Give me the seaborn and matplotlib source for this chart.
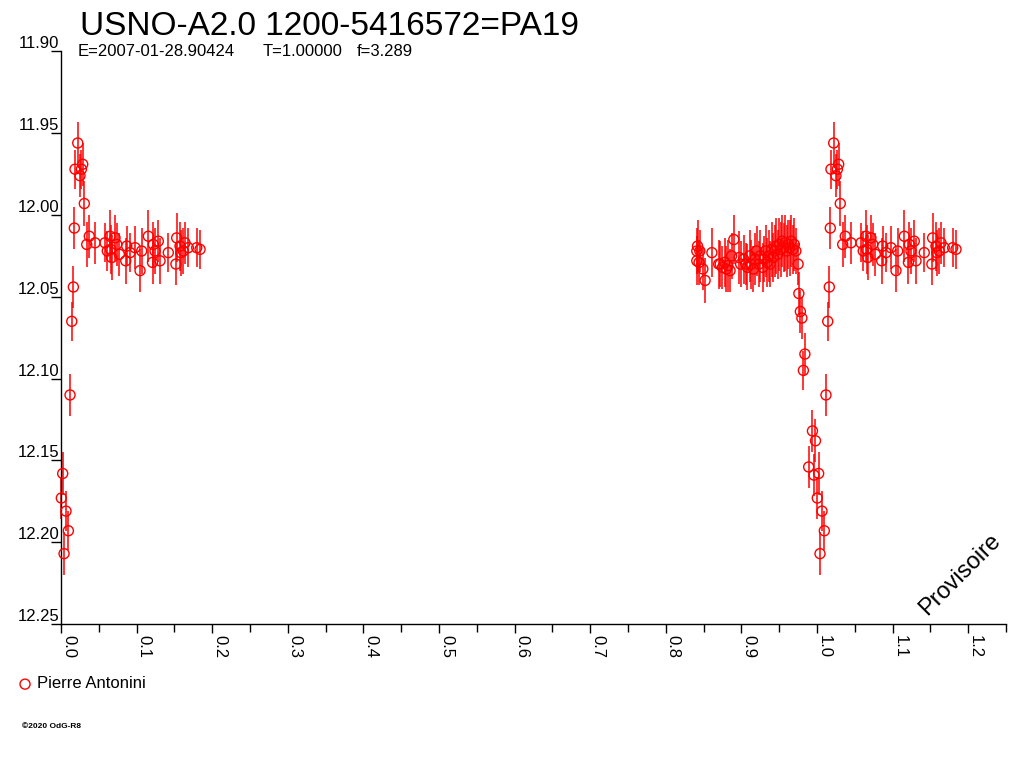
import numpy as np
import pandas as pd
import matplotlib
matplotlib.use("Agg")
import matplotlib.pyplot as plt
import seaborn as sns

# ---------------- data ----------------
phase = [
    0.0004, 0.0022, 0.0040, 0.0066, 0.0097, 0.0119, 0.0142, 0.0163,
    0.0176, 0.0185, 0.0221, 0.0251, 0.0270, 0.0287, 0.0308, 0.0340,
    0.0374, 0.0450, 0.0582, 0.0612, 0.0648, 0.0657, 0.0671, 0.0714,
    0.0737, 0.0771, 0.0856, 0.0869, 0.0913, 0.0979, 0.1045, 0.1067,
    0.1155, 0.1221, 0.1243, 0.1210, 0.1287, 0.1310, 0.1419, 0.1530,
    0.1574, 0.1520, 0.1585, 0.1640, 0.1618, 0.1684, 0.1795, 0.1839,
    0.841, 0.842, 0.845, 0.841, 0.844, 0.849, 0.852, 0.861,
    0.870, 0.872, 0.875, 0.878, 0.880, 0.882, 0.885, 0.887,
    0.890, 0.897, 0.899, 0.903, 0.906, 0.908, 0.911, 0.913,
    0.916, 0.918, 0.920, 0.923, 0.925, 0.928, 0.930, 0.932,
    0.934, 0.936, 0.938, 0.940, 0.942, 0.944, 0.946, 0.948,
    0.950, 0.952, 0.954, 0.956, 0.958, 0.960, 0.962, 0.964,
    0.966, 0.968, 0.970, 0.972, 0.975, 0.976, 0.978, 0.980,
    0.984, 0.982, 0.989, 0.994, 0.998, 0.996,
]
mag = [
    12.173, 12.158, 12.207, 12.181, 12.193, 12.110, 12.065, 12.044,
    12.008, 11.972, 11.956, 11.976, 11.972, 11.969, 11.993, 12.018,
    12.013, 12.017, 12.017, 12.022, 12.013, 12.021, 12.026, 12.014,
    12.018, 12.024, 12.028, 12.019, 12.023, 12.020, 12.034, 12.022,
    12.013, 12.018, 12.022, 12.029, 12.016, 12.028, 12.023, 12.014,
    12.019, 12.030, 12.023, 12.017, 12.022, 12.020, 12.020, 12.021,
    12.022, 12.019, 12.022, 12.028, 12.029, 12.033, 12.040, 12.023,
    12.030, 12.030, 12.032, 12.029, 12.033, 12.031, 12.034, 12.025,
    12.015, 12.026, 12.030, 12.027, 12.030, 12.032, 12.025, 12.030,
    12.033, 12.027, 12.022, 12.030, 12.025, 12.032, 12.027, 12.022,
    12.029, 12.025, 12.030, 12.021, 12.026, 12.022, 12.019, 12.024,
    12.018, 12.021, 12.016, 12.020, 12.017, 12.022, 12.018, 12.020,
    12.016, 12.021, 12.018, 12.022, 12.030, 12.048, 12.059, 12.063,
    12.085, 12.095, 12.154, 12.132, 12.138, 12.159,
]
err = [
    0.013, 0.013, 0.013, 0.012, 0.012, 0.013, 0.012, 0.013,
    0.013, 0.012, 0.013, 0.013, 0.012, 0.013, 0.014, 0.014,
    0.013, 0.013, 0.012, 0.012, 0.016, 0.015, 0.014, 0.014,
    0.013, 0.013, 0.014, 0.012, 0.012, 0.013, 0.013, 0.014,
    0.016, 0.014, 0.014, 0.013, 0.013, 0.014, 0.012, 0.015,
    0.015, 0.013, 0.014, 0.013, 0.014, 0.012, 0.012, 0.012,
    0.014, 0.016, 0.013, 0.015, 0.014, 0.013, 0.014, 0.015,
    0.015, 0.014, 0.013, 0.015, 0.014, 0.016, 0.013, 0.014,
    0.015, 0.016, 0.014, 0.015, 0.013, 0.014, 0.016, 0.015,
    0.014, 0.016, 0.015, 0.014, 0.016, 0.015, 0.014, 0.016,
    0.015, 0.016, 0.014, 0.017, 0.015, 0.016, 0.017, 0.015,
    0.016, 0.017, 0.016, 0.015, 0.017, 0.016, 0.015, 0.017,
    0.016, 0.015, 0.016, 0.014, 0.013, 0.013, 0.013, 0.013,
    0.013, 0.012, 0.013, 0.013, 0.013, 0.013,
]
observer = "Pierre Antonini"
title = "USNO-A2.0 1200-5416572=PA19"
info = ["E=2007-01-28.90424", "T=1.00000", "f=3.289"]
y_ticks = [11.90, 11.95, 12.00, 12.05, 12.10, 12.15, 12.20, 12.25]
x_ticks = [0.0, 0.1, 0.2, 0.3, 0.4, 0.5, 0.6, 0.7, 0.8, 0.9, 1.0, 1.1, 1.2]

# phase-folded data, repeated one cycle for phases < 0.25
df = pd.DataFrame({"phase": phase, "mag": mag, "err": err})
df_wrap = df[df["phase"] < 0.25].copy()
df_wrap["phase"] = df_wrap["phase"] + 1.0
dfa = pd.concat([df, df_wrap], ignore_index=True)

# ---------------- style ----------------
sns.set_theme(style="ticks")
plt.rcParams["font.family"] = ["Liberation Sans", "DejaVu Sans"]
plt.rcParams["text.color"] = "black"
plt.rcParams["axes.edgecolor"] = "black"
plt.rcParams["xtick.color"] = "black"
plt.rcParams["ytick.color"] = "black"
plt.rcParams["xtick.labelcolor"] = "black"
plt.rcParams["ytick.labelcolor"] = "black"

fig = plt.figure(figsize=(10.24, 7.68), dpi=100)
fig.patch.set_facecolor("white")
ax = fig.add_axes([0.0596, 0.1875, 0.9228, 0.7456])
ax.set_facecolor("white")

ax.errorbar(dfa["phase"], dfa["mag"], yerr=dfa["err"], fmt="none",
            ecolor="red", elinewidth=1.1, capsize=0, zorder=2, clip_on=False)
sns.scatterplot(data=dfa, x="phase", y="mag", ax=ax, marker="o", s=52,
                facecolor="none", edgecolor="red", linewidth=1.0,
                label=observer, legend=False, zorder=3, clip_on=False)

ax.set_xlim(0, 1.25)
ax.set_ylim(12.25, 11.90)
ax.set_xlabel("")
ax.set_ylabel("")

for s in ["top", "right"]:
    ax.spines[s].set_visible(False)
for s in ["left", "bottom"]:
    ax.spines[s].set_color("black")
    ax.spines[s].set_linewidth(1.0)

ax.set_xticks(x_ticks)
ax.set_xticklabels([f"{v:.1f}" for v in x_ticks])
ax.set_xticks(np.arange(0.05, 1.26, 0.1), minor=True)
ax.tick_params(axis="x", which="major", direction="out", length=6.7, width=1.0,
               color="black", labelcolor="black", labelsize=12, pad=1,
               labelrotation=-90)
ax.tick_params(axis="x", which="minor", direction="out", length=5.5, width=1.0,
               color="black")
for lab in ax.get_xticklabels():
    lab.set_horizontalalignment("left")
    lab.set_verticalalignment("top")

ax.set_yticks(y_ticks)
ax.set_yticklabels([f"{v:.2f}" for v in y_ticks])
ax.tick_params(axis="y", which="major", direction="out", length=7.2, width=1.0,
               color="black", labelcolor="black", labelsize=12, pad=-5.8)
for lab in ax.get_yticklabels():
    lab.set_verticalalignment("bottom")

# titles
fig.text(80 / 1024, 1 - 35 / 768, title, fontsize=24, ha="left",
         va="baseline", color="black")
fig.text(78 / 1024, 1 - 56 / 768, info[0], fontsize=12, ha="left",
         va="baseline", color="black")
fig.text(263 / 1024, 1 - 56 / 768, info[1], fontsize=12, ha="left",
         va="baseline", color="black")
fig.text(357 / 1024, 1 - 56 / 768, info[2], fontsize=12, ha="left",
         va="baseline", color="black")

# watermark
fig.text(960 / 1024, 1 - 575 / 768, "Provisoire", fontsize=17, rotation=45,
         ha="center", va="center", color="black")

# legend
handles, labels = ax.get_legend_handles_labels()
leg = fig.legend(handles, labels, loc="center left",
                 bbox_to_anchor=(16.7 / 1024, 1 - 684 / 768), frameon=False,
                 fontsize=12, borderpad=0, borderaxespad=0, handlelength=1.0,
                 handletextpad=0.22, markerscale=1.0)
for t in leg.get_texts():
    t.set_color("black")

fig.text(22 / 1024, 1 - 726 / 768, "\u00a92020 OdG-R8", fontsize=6,
         fontweight="bold", ha="left", va="center", color="black")

fig.savefig("out.png", dpi=100, facecolor="white")
